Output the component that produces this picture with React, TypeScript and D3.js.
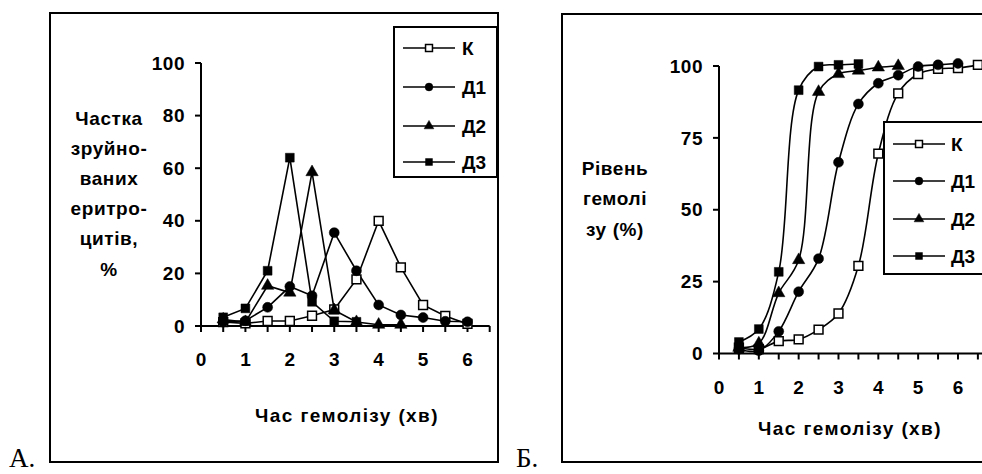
import React from "react";
import * as d3 from "d3";

// panel A: share of destroyed erythrocytes per interval (%)
const timesA = [0.5, 1, 1.5, 2, 2.5, 3, 3.5, 4, 4.5, 5, 5.5, 6];
const kA = [1.5, 1, 1.9, 1.9, 3.9, 6.3, 17.7, 40, 22.3, 8, 3.8, 0.8];
const d1A = [1.5, 2, 7.1, 15, 11.5, 35.5, 21, 8, 4.2, 3.2, 1.8, 1.6];
const d2A = [2.5, 1.5, 15.3, 12.7, 58.5, 6, 1.5, 0.5, 0.5];
const d3A = [3.3, 6.7, 21, 64, 9.2, 1.8, 1.6];

// panel B: cumulative hemolysis level (%)
const timesB = [0.5, 1, 1.5, 2, 2.5, 3, 3.5, 4, 4.5, 5, 5.5, 6, 6.5];
const kB = [2, 1.5, 4.3, 4.9, 8.3, 13.9, 30.5, 69.5, 90.5, 97.2, 99, 99.3, 100.4];
const d1B = [1.5, 1, 7.7, 21.5, 33, 66.5, 86.8, 94, 96.8, 99.8, 100.4, 100.9];
const d2B = [2, 3.5, 21, 32.5, 91, 97.2, 98.4, 99.5, 100];
const d3B = [4, 8.5, 28.4, 91.6, 99.8, 100.4, 100.7];

const seriesNames = ["К", "Д1", "Д2", "Д3"];
const xTicksA = [0, 1, 2, 3, 4, 5, 6];
const yTicksA = [0, 20, 40, 60, 80, 100];
const xTicksB = [0, 1, 2, 3, 4, 5, 6];
const yTicksB = [0, 25, 50, 75, 100];
const yTitleA = ["Частка", "зруйно-", "ваних", "еритро-", "цитів,", "%"];
const yTitleB = ["Рівень", "гемолі", "зу (%)"];
const xTitle = "Час гемолізу (хв)";

const FONT = "'Liberation Sans', Arial, sans-serif";
const FS = 19;
const shapes = [d3.symbolSquare, d3.symbolCircle, d3.symbolTriangle, d3.symbolSquare];
const fills = ["#fff", "#000", "#000", "#000"];

const Marker = ({ i, x, y, size }: { i: number; x: number; y: number; size: number }) => {
  const path = d3.symbol().type(shapes[i]).size(i === 2 ? size * 0.85 : size)();
  return (
    <path
      d={path || ""}
      transform={`translate(${x},${y})`}
      fill={fills[i]}
      stroke="#000"
      strokeWidth={i === 0 ? 1.5 : 0.5}
    />
  );
};

type PanelProps = {
  times: number[];
  series: number[][];
  xRange: [number, number];
  xMax: number;
  yRange: [number, number];
  xTicks: number[];
  yTicks: number[];
  curve: d3.CurveFactory;
  xLabelY: number;
  xTitleX: number;
  xTitleY: number;
};

const Panel = (p: PanelProps) => {
  const x = d3.scaleLinear().domain([0, p.xMax]).range(p.xRange);
  const y = d3.scaleLinear().domain([0, 100]).range(p.yRange);
  const line = d3
    .line<number>()
    .x((_, i) => x(p.times[i]))
    .y((d) => y(d))
    .curve(p.curve);
  const minor = d3.range(0, p.xMax + 0.01, 0.5);
  return (
    <g>
      {/* axes */}
      <line x1={x(0)} x2={x(0)} y1={y(0)} y2={y(100)} stroke="#000" strokeWidth={2} />
      <line x1={x(0)} x2={x(p.xMax)} y1={y(0)} y2={y(0)} stroke="#000" strokeWidth={2} />
      {p.yTicks.map((t) => (
        <g key={"y" + t}>
          <line x1={x(0) - 6} x2={x(0)} y1={y(t)} y2={y(t)} stroke="#000" strokeWidth={2} />
          <text x={x(0) - 16} y={y(t)} dy="0.35em" textAnchor="end" fontSize={FS} fontWeight="bold" fontFamily={FONT} letterSpacing={0.5}>
            {t}
          </text>
        </g>
      ))}
      {minor.map((t) => (
        <line key={"m" + t} x1={x(t)} x2={x(t)} y1={y(0)} y2={y(0) + 6} stroke="#000" strokeWidth={2} />
      ))}
      {p.xTicks.map((t) => (
        <text key={"x" + t} x={x(t)} y={p.xLabelY} dy="0.35em" textAnchor="middle" fontSize={FS} fontWeight="bold" fontFamily={FONT}>
          {t}
        </text>
      ))}
      <text x={p.xTitleX} y={p.xTitleY} dy="0.35em" textAnchor="middle" fontSize={FS} fontWeight="bold" fontFamily={FONT} letterSpacing={1.4}>
        {xTitle}
      </text>
      {/* series */}
      {p.series.map((s, si) => (
        <path key={"l" + si} d={line(s) || ""} fill="none" stroke="#000" strokeWidth={1.6} />
      ))}
      {p.series.map((s, si) =>
        s.map((v, i) => <Marker key={si + "-" + i} i={si} x={x(p.times[i])} y={y(v)} size={78} />)
      )}
    </g>
  );
};

const Legend = ({ x, y, w, h, rows, lx1, lx2, tx }: { x: number; y: number; w: number; h: number; rows: number[]; lx1: number; lx2: number; tx: number }) => (
  <g>
    <rect x={x} y={y} width={w} height={h} fill="#fff" stroke="#000" strokeWidth={2} />
    {seriesNames.map((n, i) => (
      <g key={n}>
        <line x1={lx1} x2={lx2} y1={rows[i]} y2={rows[i]} stroke="#000" strokeWidth={1.6} />
        <Marker i={i} x={(lx1 + lx2) / 2} y={rows[i]} size={48} />
        <text x={tx} y={rows[i]} dy="0.35em" fontSize={FS} fontWeight="bold" fontFamily={FONT}>
          {n}
        </text>
      </g>
    ))}
  </g>
);

export default function App() {
  return (
    <svg width={982} height={474} style={{ position: "absolute", left: 0, top: 0, background: "#fff" }}>
      {/* panel A */}
      <rect x={50} y={13} width={448} height={449} fill="none" stroke="#000" strokeWidth={2} />
      <text x={9} y={467} fontSize={27} fontFamily="'Liberation Serif', 'Times New Roman', serif">
        А.
      </text>
      {yTitleA.map((t, i) => (
        <text key={t} x={109} y={118 + i * 30.2} dy="0.35em" textAnchor="middle" fontSize={FS} fontWeight="bold" fontFamily={FONT} letterSpacing={0.6}>
          {t}
        </text>
      ))}
      <Panel
        times={timesA}
        series={[kA, d1A, d2A, d3A]}
        xRange={[201, 489.7]}
        xMax={6.5}
        yRange={[326, 63]}
        xTicks={xTicksA}
        yTicks={yTicksA}
        curve={d3.curveLinear}
        xLabelY={359}
        xTitleX={347}
        xTitleY={415}
      />
      <Legend x={394} y={27} w={103} h={150} rows={[48, 87, 126, 162]} lx1={403} lx2={455} tx={462} />

      {/* panel B */}
      <rect x={562} y={14} width={460} height={448} fill="none" stroke="#000" strokeWidth={2} />
      <text x={516} y={467} fontSize={27} fontFamily="'Liberation Serif', 'Times New Roman', serif">
        Б.
      </text>
      {yTitleB.map((t, i) => (
        <text key={t} x={615} y={168 + i * 30.5} dy="0.35em" textAnchor="middle" fontSize={FS} fontWeight="bold" fontFamily={FONT} letterSpacing={0.6}>
          {t}
        </text>
      ))}
      <Panel
        times={timesB}
        series={[kB, d1B, d2B, d3B]}
        xRange={[719, 997.8]}
        xMax={7}
        yRange={[353.5, 66]}
        xTicks={xTicksB}
        yTicks={yTicksB}
        curve={d3.curveCatmullRom.alpha(0.5)}
        xLabelY={387}
        xTitleX={850}
        xTitleY={428}
      />
      <Legend x={884} y={122} w={140} h={152} rows={[144, 181, 219, 256]} lx1={893} lx2={945} tx={951} />
    </svg>
  );
}
